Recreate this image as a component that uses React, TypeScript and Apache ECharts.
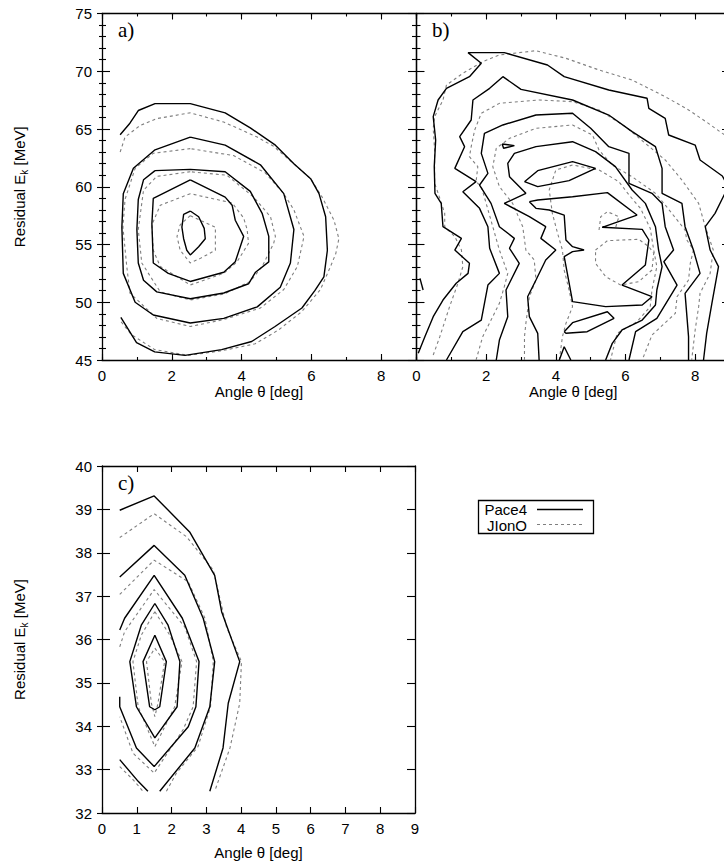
import { useEffect, useRef } from 'react';
import * as echarts from 'echarts';

type Pt = [number, number];

// ---- axis ranges and texts ----
const ANGLE: [number, number] = [0, 9];
const ENERGY_AB: [number, number] = [45, 75];
const ENERGY_C: [number, number] = [32, 40];
const X_TITLE = 'Angle θ [deg]';
const Y_TITLE = '{n|Residual E}{s|k}{n| [MeV]}';
const PANEL_TAGS = ['a)', 'b)', 'c)'];
const MODELS = ['Pace4', 'JIonO'];

// ---- panel a) contour lines [angle deg, energy MeV] ----
const aPace4: Pt[][] = [
  [[0.52,64.5],[0.8,65.5],[1.04,66.6],[1.52,67.2],[2.53,67.2],[3.53,66.4],[4.25,65.1],[4.97,63.6],[5.5,62.0],[5.98,60.7],[6.22,59.4],[6.41,57.4],[6.46,54.5],[6.36,52.2],[6.1,51.0],[5.73,49.5],[4.96,47.9],[4.29,46.6],[3.43,45.9],[2.38,45.4],[1.51,45.7],[0.99,46.5],[0.54,48.7]],
  [[2.53,64.3],[1.52,63.2],[0.9,61.6],[0.61,59.4],[0.57,56.5],[0.61,52.5],[0.95,50.0],[1.47,48.9],[2.53,48.2],[3.49,48.6],[4.45,49.6],[5.11,51.3],[5.4,53.4],[5.5,56.3],[5.21,59.4],[4.54,61.9],[3.53,63.6],[2.53,64.3]],
  [[1.52,61.4],[2.53,61.5],[3.53,61.3],[4.25,59.6],[4.59,57.7],[4.78,55.7],[4.78,53.5],[4.4,52.6],[4.2,51.6],[3.49,50.8],[2.53,50.3],[1.57,50.9],[1.19,51.9],[1.04,53.4],[1.0,56.3],[1.04,58.9],[1.19,60.6],[1.52,61.4]],
  [[2.53,60.6],[1.47,59.0],[1.43,56.8],[1.47,53.4],[1.9,52.5],[2.53,51.8],[3.49,52.6],[3.82,53.5],[4.06,55.7],[3.82,57.1],[3.73,58.4],[3.53,59.1],[2.53,60.6]],
  [[2.53,57.9],[2.34,57.6],[2.29,56.5],[2.34,55.5],[2.43,54.5],[2.53,54.1],[2.77,54.8],[2.96,55.5],[2.93,56.4],[2.77,57.4],[2.53,57.9]],
];
const aJIonO: Pt[][] = [
  [[0.55,48.3],[0.84,47.2],[1.51,45.9],[2.47,45.4],[3.43,45.8],[4.39,46.4],[5.06,47.6],[5.73,49.2],[6.26,51.1],[6.55,53.1],[6.7,54.2],[6.79,55.5],[6.65,57.1],[6.31,59.1],[5.98,60.7],[5.49,62.0],[4.92,63.5],[4.45,64.3],[3.49,65.6],[2.53,66.4],[1.57,65.9],[1.09,65.3],[0.66,64.3],[0.52,63.0]],
  [[2.53,63.3],[1.47,62.9],[0.95,61.6],[0.66,58.9],[0.6,56.5],[0.71,53.1],[0.8,50.8],[1.57,48.6],[2.53,47.9],[3.49,48.5],[4.54,49.5],[5.21,51.1],[5.6,53.1],[5.79,55.7],[5.5,58.0],[5.21,59.4],[4.68,61.2],[3.77,62.7],[2.53,63.3]],
  [[2.53,61.3],[1.57,60.9],[1.19,59.7],[1.04,56.3],[1.14,53.4],[1.67,50.9],[2.53,50.2],[3.49,50.7],[4.25,51.8],[4.59,53.1],[4.92,55.1],[4.97,55.7],[4.83,57.4],[4.35,59.1],[3.58,61.0],[2.53,61.3]],
  [[2.53,59.4],[1.67,58.4],[1.43,56.7],[1.47,54.5],[1.67,53.1],[2.53,51.5],[3.49,52.5],[3.87,53.5],[4.2,55.1],[4.16,56.3],[4.06,57.3],[3.73,58.6],[2.53,59.4]],
  [[2.53,57.5],[2.24,56.7],[2.15,55.7],[2.24,54.5],[2.53,53.4],[2.82,53.8],[3.25,54.5],[3.25,56.5],[2.82,57.1],[2.53,57.5]],
];

// ---- panel b) contour lines ----
const bPace4: Pt[][] = [
  [[0.05,45.58],[0.24,47.02],[0.48,48.75],[0.76,50.19],[1.14,51.64],[1.48,52.5],[1.52,53.37],[1.1,54.52],[1.29,55.53],[0.76,56.54],[0.71,58.56],[0.53,59.43],[0.51,61.74],[0.55,64.05],[0.48,66.07],[0.62,67.51],[0.86,68.52],[1.52,69.53],[1.86,70.69],[1.48,71.61],[2.52,71.61],[3.76,70.54],[4.24,69.53],[5.52,68.38],[6.62,67.66],[6.67,66.79],[7.14,65.92],[7.24,64.48],[8.0,63.61],[8.14,62.32],[8.78,60.93],[8.95,60.01],[8.57,57.7],[8.29,56.54],[8.43,54.52],[8.67,53.08],[8.48,49.91],[8.33,47.31],[8.24,45.0]],
  [[0.86,45.0],[1.33,47.45],[1.86,48.46],[2.05,51.49],[2.38,52.5],[2.1,54.67],[2.05,56.54],[1.81,58.13],[1.33,59.57],[1.71,60.44],[1.1,61.59],[1.38,63.47],[1.24,64.34],[1.57,65.78],[1.62,67.51],[2.1,68.52],[2.48,69.53],[3.0,68.43],[4.48,67.51],[5.52,66.21],[6.19,64.77],[6.86,63.47],[7.05,61.59],[7.05,59.43],[7.62,58.56],[7.71,56.54],[7.95,54.52],[8.14,52.5],[7.71,50.77],[7.81,47.02],[7.81,45.0]],
  [[2.29,45.0],[2.38,46.73],[2.62,48.75],[2.57,51.06],[2.95,53.37],[2.67,54.67],[2.81,55.53],[2.38,56.54],[2.14,58.56],[1.81,60.15],[2.05,61.16],[1.86,62.89],[1.95,64.62],[2.48,65.35],[3.43,66.21],[4.48,66.36],[5.0,65.06],[5.52,63.47],[6.1,62.89],[6.1,61.88],[6.1,60.3],[6.76,59.43],[7.05,58.56],[7.14,56.54],[7.38,54.52],[7.1,53.51],[7.48,51.49],[6.9,48.61],[6.29,47.45],[6.1,45.0]],
  [[3.52,45.0],[3.48,47.31],[3.24,48.75],[3.19,50.48],[3.43,51.93],[3.71,53.66],[4.0,54.52],[3.57,55.53],[3.71,56.54],[3.24,57.41],[2.52,58.56],[3.14,59.43],[2.67,60.87],[2.62,62.03],[2.81,62.89],[3.43,63.47],[4.48,63.9],[5.14,63.04],[5.71,61.74],[6.19,59.72],[6.57,58.56],[6.86,56.54],[6.95,54.52],[7.05,53.08],[6.9,51.06],[6.86,49.76],[6.48,48.46],[5.9,47.6],[5.62,46.44],[5.43,45.0]],
  [[3.24,58.71],[3.48,58.85],[4.48,59.14],[5.48,59.49],[6.33,57.55],[5.33,56.49],[6.48,56.31],[6.67,55.39],[6.57,53.23],[5.9,51.49],[6.76,50.48],[6.48,49.76],[5.43,49.62],[4.48,50.05],[4.33,52.5],[4.24,53.95],[4.48,54.38],[4.81,54.52],[4.48,54.81],[4.29,55.39],[4.24,57.55],[3.81,57.99],[3.43,58.13],[3.24,58.71]],
  [[3.1,60.44],[3.48,61.39],[4.48,62.17],[5.14,61.59],[4.38,60.53],[3.48,60.01],[3.1,60.44]],
  [[4.24,47.45],[4.48,48.23],[5.48,49.18],[5.67,48.61],[4.9,47.45],[4.29,47.31],[4.24,47.45]],
  [[2.46,63.7],[2.81,63.56],[2.5,63.33],[2.46,63.7]],
  [[4.1,45.0],[4.24,46.15],[4.43,45.0]],
  [[0.1,52.07],[0.19,51.06]],
];
const bJIonO: Pt[][] = [
  [[0.48,45.43],[0.67,47.02],[0.95,49.62],[1.19,51.64],[1.33,53.08],[1.29,54.52],[1.1,55.68],[0.81,56.54],[0.81,57.7],[0.59,59.72],[0.52,60.3],[0.52,63.18],[0.48,65.06],[0.52,66.07],[0.76,67.51],[0.86,68.81],[1.33,69.82],[1.9,70.83],[2.38,71.41],[3.43,71.78],[4.29,71.12],[5.24,70.11],[6.19,69.24],[7.14,67.8],[7.81,66.65],[8.38,65.49],[8.78,64.62],[8.95,64.34]],
  [[1.71,45.0],[1.9,47.02],[2.14,48.46],[2.38,49.91],[2.52,51.35],[2.62,52.5],[2.38,54.52],[2.19,56.54],[2.0,58.56],[1.86,60.01],[1.71,60.44],[1.76,61.74],[1.52,62.6],[1.57,63.47],[1.67,64.91],[1.86,66.36],[2.38,67.22],[3.52,67.51],[4.48,67.37],[5.24,66.65],[6.0,65.2],[6.57,63.76],[7.14,62.32],[7.62,60.58],[8.1,58.56],[8.29,56.54],[8.52,54.52],[8.43,52.5],[8.14,50.77],[8.1,49.62],[8.0,47.6],[7.9,45.0]],
  [[3.1,45.0],[3.1,47.02],[3.14,48.17],[3.24,50.48],[3.43,51.93],[3.38,53.66],[3.14,54.52],[3.05,56.54],[2.76,58.56],[2.38,60.01],[2.19,61.74],[2.29,63.33],[2.67,64.19],[3.43,65.06],[4.48,65.35],[5.05,64.48],[5.24,63.18],[5.62,61.88],[6.19,60.87],[6.86,59.43],[7.14,58.42],[7.71,56.26],[7.76,55.39],[7.95,54.52],[7.86,53.37],[7.81,51.93],[7.48,50.48],[7.43,49.04],[6.76,47.16],[6.48,45.0]],
  [[4.1,45.0],[4.19,47.02],[4.29,48.17],[4.48,49.62],[4.38,51.06],[4.24,52.79],[4.19,54.52],[4.05,55.97],[3.9,57.7],[3.81,59.72],[4.0,61.45],[4.48,61.88],[5.24,61.45],[5.81,60.44],[6.1,59.29],[6.43,58.13],[6.71,56.4],[6.81,54.52],[6.9,53.08],[6.76,51.06],[6.71,49.62],[6.33,48.32],[5.76,47.31],[5.57,45.0]],
  [[5.14,54.52],[5.48,55.33],[6.38,55.45],[6.67,54.81],[6.81,54.24],[6.76,52.79],[6.38,51.78],[5.86,51.49],[5.43,52.22],[5.14,53.37],[5.14,54.52]],
  [[5.24,56.26],[5.29,57.41],[5.48,57.84],[5.81,57.41],[5.71,56.4]],
];

// ---- panel c) contour lines ----
const cPace4: Pt[][] = [
  [[0.51,38.98],[1.5,39.31],[2.52,38.48],[3.24,37.48],[3.44,36.64],[3.96,35.49],[3.63,34.53],[3.48,33.5],[3.1,32.5]],
  [[0.51,37.44],[1.5,38.17],[2.38,37.48],[2.91,36.49],[3.24,35.49],[3.1,34.45],[2.67,33.5],[1.66,32.5]],
  [[0.51,33.23],[1.04,32.73],[1.32,32.5]],
  [[0.51,36.22],[0.65,36.49],[1.5,37.48],[2.31,36.49],[2.79,35.49],[2.7,34.45],[2.48,33.99],[1.5,33.07],[0.99,33.5],[0.51,34.45],[0.51,34.68]],
  [[1.52,36.83],[1.9,36.33],[2.24,35.49],[2.16,34.45],[1.52,33.73],[0.99,34.45],[0.8,35.49],[1.13,36.33],[1.52,36.83]],
  [[1.52,36.1],[1.85,35.49],[1.66,34.45],[1.52,34.38],[1.37,34.45],[1.18,35.49],[1.52,36.1]],
];
const cJIonO: Pt[][] = [
  [[0.51,38.35],[1.5,38.9],[2.43,38.37],[3.2,37.6],[3.58,36.29],[4.01,35.49],[3.96,34.53],[3.68,33.5],[3.24,32.5]],
  [[0.51,37.04],[1.5,37.83],[2.48,37.33],[2.96,36.49],[3.2,35.49],[3.12,34.45],[2.76,33.53],[2.14,32.92],[1.85,32.5]],
  [[0.51,33.07],[0.89,32.77],[1.18,32.5]],
  [[0.51,35.83],[0.65,36.18],[1.5,37.15],[2.38,36.29],[2.72,35.49],[2.62,34.45],[2.33,33.92],[1.5,32.92],[0.89,33.38],[0.51,34.22]],
  [[1.52,36.64],[1.95,36.1],[2.3,35.49],[2.09,34.45],[1.52,33.53],[1.04,34.45],[0.89,35.49],[1.13,36.1],[1.52,36.64]],
  [[1.52,35.8],[1.8,35.49],[1.61,34.53],[1.52,34.22],[1.42,34.53],[1.28,35.49],[1.52,35.8]],
];

// ---- layout & styles ----
const W = 724;
const H = 867;
const INK = '#000';
const DASH_INK = '#7f7f7f';
const FONT = '"Liberation Sans", Arial, Helvetica, sans-serif';
const SERIF = '"Liberation Serif", "Times New Roman", serif';
const GRIDS = [
  { left: 102, top: 13.5, width: 314, height: 346.5 },
  { left: 416.5, top: 13.5, width: 313.5, height: 346.5 },
  { left: 102, top: 466, width: 313, height: 347 },
];
const X_NAME_GAP = [24, 24, 32];
const TAG_POS: Pt[] = [[118, 30], [432, 30], [118, 483]];

const axisLineStyle = { color: INK, width: 1.3 };
const tickStyle = { color: INK, width: 1.1 };
const labelStyle = { color: INK, fontSize: 15, fontFamily: FONT };

type XOpt = { line?: boolean; labels?: boolean; hideMax?: boolean; title?: boolean };
function xAxis(gridIndex: number, position: 'top' | 'bottom', interval: number, tickLen: number, o: XOpt = {}) {
  return {
    type: 'value',
    gridIndex,
    position,
    min: ANGLE[0],
    max: ANGLE[1],
    interval,
    axisLine: { show: !!o.line, onZero: false, lineStyle: axisLineStyle },
    axisTick: { show: true, inside: true, length: tickLen, lineStyle: tickStyle },
    minorTick: { show: false },
    splitLine: { show: false },
    axisLabel: o.labels
      ? { show: true, margin: 8, ...labelStyle, showMinLabel: true, showMaxLabel: !o.hideMax }
      : { show: false },
    name: o.title ? X_TITLE : '',
    nameLocation: 'middle',
    nameGap: X_NAME_GAP[gridIndex],
    nameMoveOverlap: false,
    nameTextStyle: { ...labelStyle },
    silent: true,
  };
}

type YOpt = { line?: boolean; labels?: boolean; outward?: boolean; minor?: boolean; title?: boolean };
function yAxis(gridIndex: number, position: 'left' | 'right', range: [number, number], interval: number, o: YOpt = {}) {
  const inside = !o.outward;
  return {
    type: 'value',
    gridIndex,
    position,
    min: range[0],
    max: range[1],
    interval,
    axisLine: { show: !!o.line, onZero: false, lineStyle: axisLineStyle },
    axisTick: { show: true, inside, length: inside ? 8 : 5, lineStyle: tickStyle },
    minorTick: o.minor
      ? { show: true, splitNumber: 5, length: inside ? 4 : 3, lineStyle: tickStyle }
      : { show: false },
    splitLine: { show: false },
    minorSplitLine: { show: false },
    axisLabel: o.labels ? { show: true, margin: 10, ...labelStyle } : { show: false },
    name: o.title ? Y_TITLE : '',
    nameLocation: 'middle',
    nameGap: 73,
    nameRotate: 90,
    nameMoveOverlap: false,
    nameTextStyle: {
      ...labelStyle,
      rich: {
        n: { ...labelStyle, lineHeight: 20, verticalAlign: 'middle' },
        s: { color: INK, fontFamily: FONT, fontSize: 10, lineHeight: 10, verticalAlign: 'bottom' },
      },
    },
    silent: true,
  };
}

const xAxes = [
  // a)
  xAxis(0, 'bottom', 2, 6, { line: true, labels: true, hideMax: true, title: true }),
  xAxis(0, 'bottom', 1, 3),
  xAxis(0, 'top', 2, 6, { line: true }),
  xAxis(0, 'top', 1, 3),
  // b)
  xAxis(1, 'bottom', 2, 6, { line: true, labels: true, hideMax: true, title: true }),
  xAxis(1, 'bottom', 1, 3),
  xAxis(1, 'top', 2, 6, { line: true }),
  xAxis(1, 'top', 1, 3),
  // c)
  xAxis(2, 'bottom', 1, 6, { line: true, labels: true, title: true }),
  xAxis(2, 'top', 1, 6, { line: true }),
];

const yAxes = [
  // a)
  yAxis(0, 'left', ENERGY_AB, 5, { line: true, labels: true, minor: true, title: true }),
  yAxis(0, 'left', ENERGY_AB, 5, { outward: true, minor: true }),
  yAxis(0, 'right', ENERGY_AB, 5, { line: true, minor: true }),
  // b)
  yAxis(1, 'left', ENERGY_AB, 5, { line: true, minor: true }),
  yAxis(1, 'right', ENERGY_AB, 5, { line: true, minor: true }),
  // c)
  yAxis(2, 'left', ENERGY_C, 1, { line: true, labels: true, title: true }),
  yAxis(2, 'left', ENERGY_C, 1, { outward: true }),
  yAxis(2, 'right', ENERGY_C, 1, { line: true }),
];

const solidStyle = { color: INK, width: 1.4, type: 'solid' as const };
const dashedStyle = { color: DASH_INK, width: 1.1, type: [3, 3] };

function contourSeries(lines: Pt[][], model: string, xAxisIndex: number, yAxisIndex: number) {
  const solid = model === MODELS[0];
  return lines.map((data) => ({
    type: 'line',
    name: model,
    data,
    xAxisIndex,
    yAxisIndex,
    symbol: 'none',
    showSymbol: false,
    silent: true,
    clip: true,
    lineStyle: solid ? solidStyle : dashedStyle,
    itemStyle: { color: solid ? INK : DASH_INK },
    emphasis: { disabled: true },
    z: solid ? 3 : 2,
  }));
}

function buildOption() {
  const series = [
    ...contourSeries(aJIonO, MODELS[1], 0, 0),
    ...contourSeries(aPace4, MODELS[0], 0, 0),
    ...contourSeries(bJIonO, MODELS[1], 4, 3),
    ...contourSeries(bPace4, MODELS[0], 4, 3),
    ...contourSeries(cJIonO, MODELS[1], 8, 5),
    ...contourSeries(cPace4, MODELS[0], 8, 5),
  ];

  const tags = PANEL_TAGS.map((t, i) => ({
    type: 'text',
    x: TAG_POS[i][0],
    y: TAG_POS[i][1],
    silent: true,
    style: { text: t, fontSize: 21, fontFamily: SERIF, fill: INK, align: 'left', verticalAlign: 'middle' },
  }));

  // key box: model name followed by its line sample
  const key = [
    {
      type: 'rect',
      silent: true,
      shape: { x: 478.5, y: 500.5, width: 115, height: 33 },
      style: { fill: 'none', stroke: INK, lineWidth: 1.3 },
    },
    {
      type: 'text',
      x: 527,
      y: 509.5,
      silent: true,
      style: { text: MODELS[0], fontSize: 15, fontFamily: FONT, fill: INK, align: 'right', verticalAlign: 'middle' },
    },
    {
      type: 'line',
      silent: true,
      shape: { x1: 537, y1: 509.5, x2: 583, y2: 509.5 },
      style: { stroke: INK, lineWidth: 1.4 },
    },
    {
      type: 'text',
      x: 527,
      y: 525,
      silent: true,
      style: { text: MODELS[1], fontSize: 15, fontFamily: FONT, fill: INK, align: 'right', verticalAlign: 'middle' },
    },
    {
      type: 'line',
      silent: true,
      shape: { x1: 537, y1: 524.5, x2: 583, y2: 524.5 },
      style: { stroke: DASH_INK, lineWidth: 1.1, lineDash: [3, 3] },
    },
  ];

  return {
    animation: false,
    backgroundColor: '#fff',
    textStyle: { fontFamily: FONT },
    grid: GRIDS.map((g) => ({ ...g, containLabel: false, outerBoundsMode: 'none', show: false })),
    xAxis: xAxes,
    yAxis: yAxes,
    series,
    graphic: [...tags, ...key],
  };
}

export default function App() {
  const ref = useRef<HTMLDivElement>(null);
  useEffect(() => {
    if (!ref.current) return;
    const chart = echarts.init(ref.current, undefined, { renderer: 'svg' });
    chart.setOption(buildOption() as any);
    return () => chart.dispose();
  }, []);
  return (
    <div
      ref={ref}
      style={{ position: 'absolute', left: 0, top: 0, width: W, height: H, overflow: 'hidden', background: '#fff' }}
    />
  );
}
